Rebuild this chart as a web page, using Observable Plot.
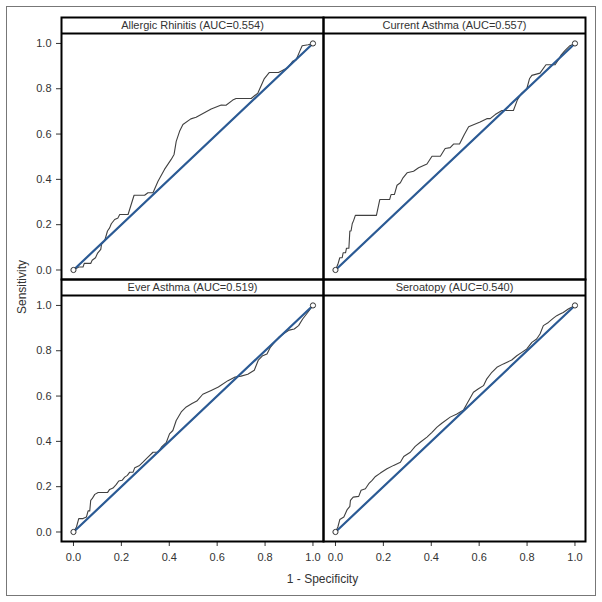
<!DOCTYPE html>
<html><head><meta charset="utf-8">
<script src="https://cdn.jsdelivr.net/npm/d3@7"></script>
<script src="https://cdn.jsdelivr.net/npm/@observablehq/plot@0.6"></script>
<style>
body{margin:0;background:#fff;}
#wrap{position:relative;width:602px;height:602px;font-family:"Liberation Sans",Arial,sans-serif;color:#333;}
#border{position:absolute;left:6px;top:6px;width:590px;height:590px;border:1px solid #777;box-sizing:border-box;pointer-events:none;}
#chart{position:absolute;left:0;top:0;}
.axlab{position:absolute;font-size:12px;color:#333;white-space:nowrap;}
#xlab{left:0;width:645px;text-align:center;top:572px;}
#ylab{left:22px;top:287px;transform:translate(-50%,-50%) rotate(-90deg);}
</style></head>
<body>
<div id="wrap">
  <div id="chart"></div>
  <div id="border"></div>
  <div class="axlab" id="xlab">1 - Specificity</div>
  <div class="axlab" id="ylab">Sensitivity</div>
</div>
<script>
const panelTitles = ["Allergic Rhinitis (AUC=0.554)", "Current Asthma (AUC=0.557)", "Ever Asthma (AUC=0.519)", "Seroatopy (AUC=0.540)"];
const panelCol = [0, 1, 0, 1];
const panelRow = [0, 0, 1, 1];
const tickValues = [0, 0.2, 0.4, 0.6, 0.8, 1.0];

const arFpr = [0, 0.022, 0.04, 0.045, 0.072, 0.078, 0.092, 0.10, 0.114, 0.117, 0.13, 0.142, 0.151, 0.158, 0.172, 0.186, 0.193, 0.228, 0.253, 0.297, 0.311, 0.332, 0.353, 0.38, 0.408, 0.42, 0.429, 0.443, 0.457, 0.49, 0.512, 0.533, 0.575, 0.617, 0.637, 0.665, 0.679, 0.742, 0.77, 0.797, 0.818, 0.856, 0.878, 0.895, 0.915, 0.93, 0.945, 0.955, 0.98, 1];
const arTpr = [0, 0.013, 0.013, 0.029, 0.029, 0.043, 0.054, 0.073, 0.091, 0.113, 0.128, 0.172, 0.186, 0.204, 0.223, 0.23, 0.245, 0.245, 0.33, 0.33, 0.341, 0.341, 0.392, 0.444, 0.488, 0.51, 0.568, 0.612, 0.642, 0.667, 0.674, 0.686, 0.711, 0.728, 0.727, 0.75, 0.757, 0.757, 0.781, 0.845, 0.872, 0.872, 0.884, 0.893, 0.921, 0.928, 0.966, 0.99, 0.994, 1];

const caFpr = [0, 0.01, 0.018, 0.028, 0.032, 0.042, 0.046, 0.056, 0.06, 0.065, 0.07, 0.076, 0.083, 0.171, 0.185, 0.226, 0.232, 0.246, 0.257, 0.271, 0.282, 0.299, 0.326, 0.347, 0.382, 0.403, 0.438, 0.458, 0.479, 0.493, 0.518, 0.538, 0.556, 0.604, 0.632, 0.646, 0.667, 0.695, 0.743, 0.76, 0.778, 0.799, 0.81, 0.82, 0.854, 0.879, 0.917, 0.931, 0.941, 0.958, 0.979, 1];
const caTpr = [0, 0.025, 0.054, 0.054, 0.076, 0.076, 0.096, 0.096, 0.172, 0.172, 0.204, 0.219, 0.241, 0.241, 0.311, 0.311, 0.333, 0.333, 0.374, 0.385, 0.407, 0.429, 0.436, 0.451, 0.468, 0.502, 0.502, 0.536, 0.54, 0.556, 0.556, 0.598, 0.632, 0.653, 0.668, 0.668, 0.686, 0.704, 0.704, 0.752, 0.781, 0.8, 0.844, 0.859, 0.869, 0.906, 0.906, 0.928, 0.947, 0.968, 0.99, 1];

const eaFpr = [0, 0.0125, 0.022, 0.04, 0.054, 0.061, 0.068, 0.072, 0.078, 0.089, 0.103, 0.142, 0.151, 0.165, 0.179, 0.189, 0.203, 0.214, 0.225, 0.235, 0.249, 0.256, 0.276, 0.29, 0.311, 0.332, 0.353, 0.367, 0.388, 0.401, 0.415, 0.429, 0.45, 0.471, 0.495, 0.515, 0.54, 0.575, 0.605, 0.645, 0.675, 0.7, 0.728, 0.755, 0.772, 0.79, 0.808, 0.822, 0.839, 0.86, 0.88, 0.901, 0.922, 0.94, 0.957, 0.978, 1];
const eaTpr = [0, 0.022, 0.059, 0.059, 0.066, 0.093, 0.093, 0.14, 0.147, 0.166, 0.174, 0.174, 0.188, 0.194, 0.21, 0.225, 0.228, 0.242, 0.25, 0.264, 0.264, 0.284, 0.294, 0.308, 0.33, 0.352, 0.352, 0.374, 0.396, 0.433, 0.448, 0.492, 0.53, 0.552, 0.567, 0.578, 0.608, 0.625, 0.64, 0.668, 0.684, 0.688, 0.696, 0.714, 0.759, 0.778, 0.786, 0.815, 0.837, 0.862, 0.877, 0.891, 0.896, 0.911, 0.94, 0.969, 1];

const seFpr = [0, 0.01, 0.018, 0.035, 0.049, 0.06, 0.0625, 0.074, 0.097, 0.107, 0.125, 0.139, 0.153, 0.167, 0.1875, 0.215, 0.243, 0.271, 0.285, 0.3125, 0.333, 0.354, 0.382, 0.403, 0.424, 0.444, 0.479, 0.507, 0.535, 0.549, 0.576, 0.597, 0.618, 0.632, 0.653, 0.674, 0.701, 0.736, 0.757, 0.778, 0.799, 0.82, 0.84, 0.854, 0.868, 0.889, 0.91, 0.924, 0.9375, 0.951, 0.972, 1];
const seTpr = [0, 0.022, 0.055, 0.066, 0.099, 0.113, 0.14, 0.154, 0.157, 0.184, 0.191, 0.213, 0.228, 0.245, 0.26, 0.279, 0.294, 0.308, 0.333, 0.352, 0.378, 0.396, 0.419, 0.44, 0.463, 0.48, 0.507, 0.521, 0.539, 0.566, 0.617, 0.632, 0.646, 0.676, 0.705, 0.727, 0.742, 0.759, 0.778, 0.793, 0.808, 0.837, 0.852, 0.874, 0.911, 0.925, 0.944, 0.955, 0.962, 0.969, 0.984, 1];

const fprs = [arFpr, caFpr, eaFpr, seFpr];
const tprs = [arTpr, caTpr, eaTpr, seTpr];

const curves = [];
const ends = [];
panelTitles.forEach((t, i) => {
  fprs[i].forEach((v, j) => curves.push({panel: t, col: panelCol[i], row: panelRow[i], x: v, y: tprs[i][j]}));
  ends.push({col: panelCol[i], row: panelRow[i], x: 0, y: 0});
  ends.push({col: panelCol[i], row: panelRow[i], x: 1, y: 1});
});
const headers = panelTitles.map((t, i) => ({title: t, col: panelCol[i], row: panelRow[i]}));
const diag = [{x: 0, y: 0}, {x: 1, y: 1}];

const chart = Plot.plot({
  width: 602,
  height: 602,
  marginLeft: 60,
  marginRight: 17,
  marginTop: 16,
  marginBottom: 61,
  style: {fontFamily: '"Liberation Sans", Arial, sans-serif', fontSize: "11px", color: "#333", background: "transparent"},
  fx: {domain: [0, 1], padding: 0, axis: null},
  fy: {domain: [0, 1], padding: 0, axis: null},
  x: {domain: [-0.05, 1.044], ticks: tickValues, tickFormat: d3.format(".1f"), label: null, tickSize: 5, tickPadding: 7},
  y: {domain: [-0.042, 1.1145], ticks: tickValues, tickFormat: d3.format(".1f"), label: null, tickSize: 5, tickPadding: 5},
  marks: [
    Plot.line(curves, {x: "x", y: "y", z: "panel", fx: "col", fy: "row", stroke: "#404040", strokeWidth: 1.1}),
    Plot.line(diag, {x: "x", y: "y", stroke: "#2b5a94", strokeWidth: 2.2}),
    Plot.dot(ends, {x: "x", y: "y", fx: "col", fy: "row", r: 2.6, stroke: "#333", strokeWidth: 1, fill: "white"}),
    Plot.ruleY([1.044], {stroke: "black", strokeWidth: 2}),
    Plot.text(headers, {x: () => 0.497, y: () => 1.079, fx: "col", fy: "row", text: "title", fill: "#333", fontSize: 11}),
    Plot.frame({stroke: "black", strokeWidth: 2})
  ]
});
document.getElementById("chart").appendChild(chart);
</script>
</body></html>
